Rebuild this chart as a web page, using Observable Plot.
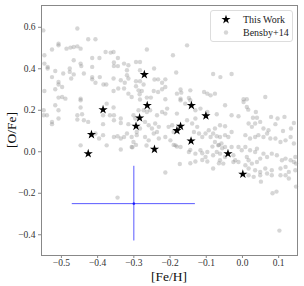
<!DOCTYPE html>
<html><head><meta charset="utf-8">
<script src="https://cdn.jsdelivr.net/npm/d3@7"></script>
<script src="https://cdn.jsdelivr.net/npm/@observablehq/plot@0.6"></script>
<style>
body{margin:0;background:#fff;}
#wrap{position:relative;width:304px;height:286px;font-family:"Liberation Serif",serif;}
#wrap svg{display:block;}
#legend{position:absolute;left:210px;top:10px;width:81px;height:30px;border:1px solid #ddd;border-radius:3px;background:rgba(255,255,255,0.85);font-size:10px;color:#222;}
#legend .row{position:absolute;left:0;height:13px;line-height:13px;}
#legend svg{position:absolute;left:8px;top:0;}
#legend span{position:absolute;left:32px;white-space:nowrap;}
</style>
</head><body>
<div id="wrap"></div>
<script>
// This Work stars
const workFeH = [-0.271,-0.385,-0.417,-0.426,-0.263,-0.284,-0.294,-0.243,-0.141,-0.101,-0.171,-0.181,-0.142,-0.040,0.001];
const workOFe = [0.372,0.203,0.083,-0.009,0.223,0.163,0.123,0.012,0.223,0.173,0.123,0.102,0.052,-0.009,-0.108];
// Bensby+14 comparison sample [Fe/H, O/Fe]
const bensby = [
[-0.55,0.585],[-0.456,0.594],[-0.547,0.465],[-0.508,0.521],[-0.508,0.513],[-0.526,0.493],[-0.486,0.497],[-0.475,0.502],[-0.466,0.505],[-0.456,0.508],[-0.447,0.497],[-0.426,0.542],[-0.406,0.542],[-0.378,0.481],[-0.364,0.478],[-0.356,0.481],[-0.466,0.441],[-0.344,0.452],[-0.547,0.425],[-0.538,0.409],[-0.538,0.401],[-0.517,0.389],[-0.477,0.401],[-0.477,0.385],[-0.466,0.373],[-0.447,0.425],[-0.445,0.413],[-0.415,0.409],[-0.395,0.452],[-0.415,0.452],[-0.438,0.377],[-0.355,0.43],[-0.355,0.413],[-0.344,0.413],[-0.327,0.425],[-0.495,0.377],[-0.526,0.36],[-0.473,0.353],[-0.415,0.36],[-0.415,0.349],[-0.406,0.333],[-0.394,0.36],[-0.384,0.324],[-0.376,0.324],[-0.356,0.353],[-0.336,0.345],[-0.325,0.333],[-0.508,0.336],[-0.508,0.324],[-0.498,0.312],[-0.517,0.301],[-0.547,0.293],[-0.447,0.256],[-0.498,0.264],[-0.489,0.256],[-0.508,0.261],[-0.356,0.293],[-0.343,0.305],[-0.327,0.305],
[-0.153,0.513],[-0.264,0.493],[-0.192,0.465],[-0.294,0.433],[-0.283,0.433],[-0.315,0.417],[-0.319,0.393],[-0.283,0.393],[-0.244,0.401],[-0.183,0.382],[-0.319,0.369],[-0.315,0.353],[-0.294,0.34],[-0.283,0.34],[-0.273,0.324],[-0.233,0.349],[-0.222,0.333],[-0.213,0.349],[-0.294,0.316],[-0.287,0.296],[-0.278,0.293],[-0.284,0.277],[-0.222,0.301],[-0.213,0.312],[-0.233,0.288],[-0.245,0.293],[-0.306,0.264],[-0.315,0.28],[-0.264,0.261],[-0.253,0.261],[-0.283,0.252],[-0.213,0.253],[-0.181,0.28],[-0.171,0.3],[-0.169,0.285],[-0.144,0.296],[-0.106,0.288],[-0.097,0.28],[-0.088,0.272],[-0.148,0.259],[-0.171,0.256],[-0.243,0.348],
[-0.081,0.375],[-0.061,0.36],[-0.03,0.375],[-0.076,0.28],[0.003,0.253],[0.012,0.253],[0.063,0.264],
[0.016,0.203],[0.037,0.192],[0.079,0.168],[0.097,0.16],[0.116,0.168],[0.029,0.164],[0.04,0.164],[0.049,0.144],[0.134,0.112],
[-0.048,0.224],[-0.071,0.181],[-0.03,0.176],[-0.011,0.171],[0.003,0.24],[0.012,0.216],[0.091,0.133],[0.112,0.1],[0.142,0.139],[-0.062,0.128],[-0.048,0.123],[-0.076,0.112],[-0.081,0.088],[-0.071,0.075],[-0.062,0.071],[-0.048,0.08],[-0.039,0.071],[-0.03,0.095],[0.017,0.136],[0.026,0.12],[0.035,0.136],[0.008,0.08],[0.021,0.064],[0.035,0.071],[0.044,0.08],[0.058,0.112],[0.068,0.088],[0.072,0.104],[0.058,0.071],[0.077,0.064],[0.091,0.064],[0.105,0.047],[0.119,0.055],[0.133,0.071],[0.142,0.04],[-0.076,0.047],[-0.067,0.031],[-0.058,0.04],[-0.048,0.023],[-0.03,0.023],[-0.011,0.023],[-0.002,0.007],[0.008,0.023],[0.021,0.007],[0.035,-0.001],[0.04,0.015],[-0.071,-0.001],[-0.062,-0.009],[-0.081,-0.017],[-0.048,-0.025],[-0.025,-0.017],[-0.02,-0.041],[-0.011,-0.049],[-0.025,-0.049],[0.012,-0.025],[0.017,-0.041],[0.026,-0.057],[0.04,-0.049],[0.049,-0.033],[0.058,-0.009],[0.068,-0.025],[0.081,-0.009],[0.095,-0.017],[0.109,-0.041],[0.119,-0.033],[0.133,-0.041],[0.142,-0.049],[0.146,-0.025],[-0.081,-0.081],[-0.062,-0.041],[-0.053,-0.057],[0.008,-0.065],[0.017,-0.081],[0.035,-0.089],[0.049,-0.097],[0.063,-0.081],[0.068,-0.105],[0.081,-0.089],[0.105,-0.081],[0.119,-0.073],[0.128,-0.097],[0.146,-0.089],[0.148,-0.057],[0.017,-0.113],[0.031,-0.121],[0.049,-0.113],[0.081,-0.113],[0.105,-0.113],[0.119,-0.113],[0.128,-0.129],
[0.051,-0.144],[0.083,-0.2],[0.094,-0.192],[0.102,-0.38],[0.148,-0.168],[-0.213,-0.1],[-0.173,-0.059],[-0.144,-0.055],[-0.13,-0.047],[-0.111,-0.04],[-0.097,-0.047],[-0.065,-0.055],
[-0.315,0.133],[-0.301,0.176],[-0.287,0.2],[-0.273,0.2],[-0.264,0.192],[-0.255,0.2],[-0.236,0.176],[-0.222,0.192],[-0.213,0.184],[-0.208,0.208],[-0.181,0.184],[-0.171,0.248],[-0.158,0.232],[-0.144,0.248],[-0.13,0.2],[-0.116,0.208],[-0.097,0.192],[-0.319,0.088],[-0.306,0.071],[-0.292,0.08],[-0.301,0.047],[-0.306,0.023],[-0.269,0.144],[-0.259,0.128],[-0.25,0.112],[-0.241,0.136],[-0.231,0.12],[-0.236,0.095],[-0.245,0.088],[-0.269,0.071],[-0.259,0.055],[-0.231,0.064],[-0.213,0.071],[-0.204,0.12],[-0.194,0.128],[-0.19,0.095],[-0.199,0.055],[-0.185,0.031],[-0.171,0.023],[-0.153,0.152],[-0.139,0.136],[-0.13,0.16],[-0.125,0.12],[-0.134,0.095],[-0.12,0.088],[-0.111,0.071],[-0.102,0.088],[-0.093,0.104],[-0.088,0.071],[-0.148,-0.001],[-0.13,-0.009],[-0.116,0.007],[-0.097,-0.001],[-0.102,-0.025],[-0.283,0.112],[-0.292,0.095],[-0.296,0.16],
[-0.517,0.224],[-0.508,0.2],[-0.549,0.2],[-0.54,0.176],[-0.549,0.176],[-0.526,0.144],[-0.526,0.133],[-0.508,0.16],[-0.447,0.248],[-0.447,0.213],[-0.456,0.176],[-0.456,0.155],[-0.443,0.181],[-0.438,0.152],[-0.426,0.144],[-0.385,0.176],[-0.385,0.133],[-0.375,0.232],[-0.356,0.213],[-0.366,0.176],[-0.355,0.176],[-0.355,0.152],[-0.336,0.16],[-0.336,0.139],[-0.406,0.088],[-0.396,0.064],[-0.385,0.08],[-0.375,0.031],[-0.447,0.031],[-0.355,0.071],[-0.345,0.075],[-0.336,0.064],[-0.327,0.071],[-0.336,0.011],
[-0.304,0.022],[-0.294,0.033],[-0.265,0.03],[-0.345,-0.221],
[-0.19,0.033],[-0.181,0.025],[-0.144,0.009],[-0.111,-0.007],[-0.083,0.025],[-0.065,0.033],[-0.056,0.017]
];
// typical uncertainty
const errFeH = [-0.3], errOFe = [-0.25], errX = [0.17], errY = [0.18];
const xTicks = [-0.5,-0.4,-0.3,-0.2,-0.1,0.0,0.1];
const yTicks = [-0.4,-0.2,0.0,0.2,0.4,0.6];

const work = workFeH.map((x,i)=>({x, y: workOFe[i]}));
const bens = bensby.map(([x,y])=>({x,y}));
const err = errFeH.map((x,i)=>({x, y: errOFe[i], ex: errX[i], ey: errY[i]}));
const fmt = d3.format(".1f");
const font = "Liberation Serif";

const chart = Plot.plot({
  width: 304, height: 286,
  marginLeft: 41, marginRight: 7, marginTop: 5, marginBottom: 31,
  style: {fontFamily: font, fontSize: "9.5px", color: "#333", background: "#fff"},
  x: {domain: [-0.555, 0.152]},
  y: {domain: [-0.5, 0.705]},
  marks: [
    Plot.dot(bens, {x: "x", y: "y", r: 2.2, fill: "gray", fillOpacity: 0.32, stroke: "none"}),
    Plot.ruleY(err, {y: "y", x1: d => d.x - d.ex, x2: d => d.x + d.ex, stroke: "blue", strokeOpacity: 0.65, strokeWidth: 1}),
    Plot.ruleX(err, {x: "x", y1: d => d.y - d.ey, y2: d => d.y + d.ey, stroke: "blue", strokeOpacity: 0.65, strokeWidth: 1}),
    Plot.dot(err, {x: "x", y: "y", r: 1.3, fill: "blue", fillOpacity: 0.7}),
    Plot.dot(work, {x: "x", y: "y", symbol: "star", r: 2.9, fill: "black", stroke: "none"}),
    Plot.axisX({ticks: xTicks, tickFormat: fmt, tickSize: 3, tickPadding: 1, stroke: "#888", label: null}),
    Plot.axisY({ticks: yTicks, tickFormat: fmt, tickSize: 3, tickPadding: 3, stroke: "#888", label: null}),
    Plot.frame({stroke: "#888", strokeWidth: 1})
  ]
});
const wrap = document.getElementById("wrap");
wrap.appendChild(chart);

// axis titles
const xl = document.createElement("div");
xl.textContent = "[Fe/H]";
xl.style.cssText = "position:absolute;left:0;width:338px;top:269px;text-align:center;font-size:13.5px;line-height:15px;color:#111;";
wrap.appendChild(xl);
const yl = document.createElement("div");
yl.textContent = "[O/Fe]";
yl.style.cssText = "position:absolute;left:-28px;top:122px;width:80px;text-align:center;font-size:13.5px;line-height:16px;color:#111;transform:rotate(-90deg);";
wrap.appendChild(yl);

// legend
const starPath = d3.symbol(d3.symbolStar, 26)();
const lg = document.createElement("div");
lg.id = "legend";
lg.innerHTML = `
<div class="row" style="top:2px;width:81px"><svg width="14" height="13"><path d="${starPath}" transform="translate(7,6.5)" fill="black"/></svg><span>This Work</span></div>
<div class="row" style="top:15px;width:81px"><svg width="14" height="13"><circle cx="7" cy="6.5" r="2.2" fill="gray" fill-opacity="0.32"/></svg><span>Bensby+14</span></div>`;
wrap.appendChild(lg);
</script>
</body></html>
